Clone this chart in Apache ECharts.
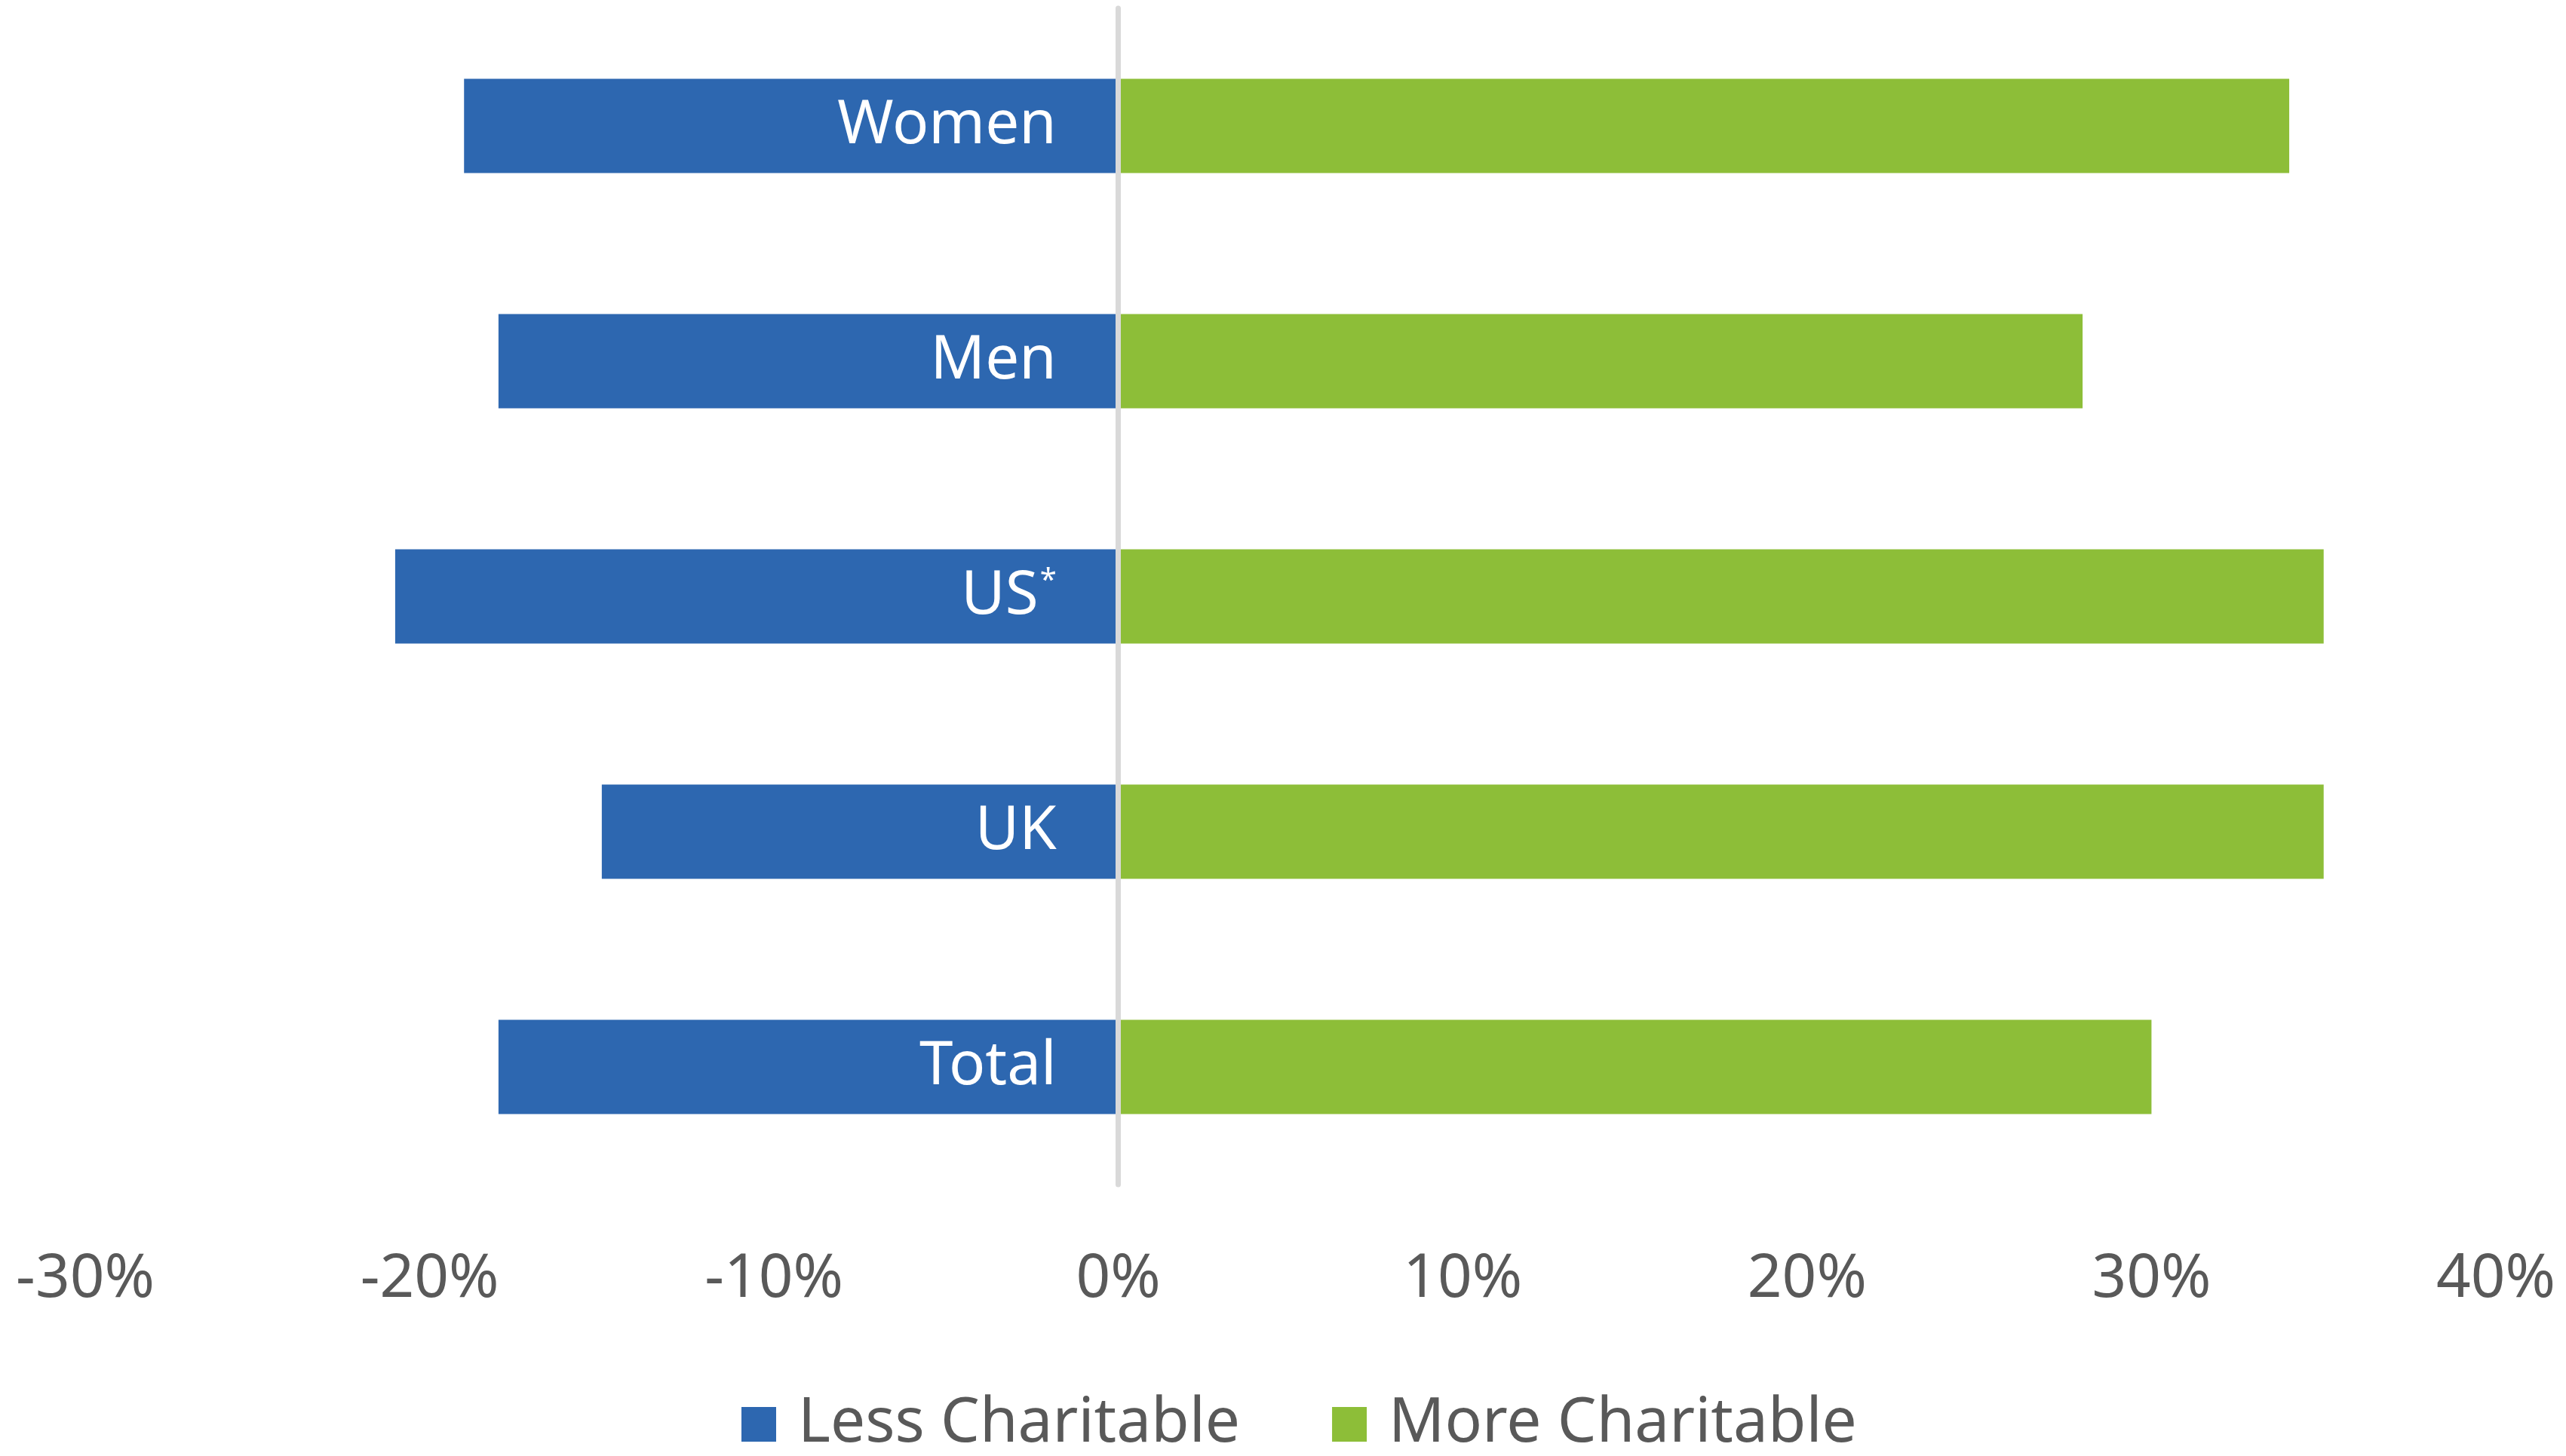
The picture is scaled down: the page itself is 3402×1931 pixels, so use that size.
<!DOCTYPE html>
<html>
<head>
<meta charset="utf-8">
<script src="https://cdn.jsdelivr.net/npm/echarts@6/dist/echarts.min.js"></script>
<style>
  html, body { margin: 0; padding: 0; background: #fff; }
  #chart { width: 3402px; height: 1931px; }
</style>
</head>
<body>
<div id="chart"></div>
<script>
  // categories top to bottom
  var categories = ['Women', 'Men', 'US*', 'UK', 'Total'];
  var lessCharitable = [-19, -18, -21, -15, -18];
  var moreCharitable = [34, 28, 35, 35, 30];
  var seriesNames = ['Less Charitable', 'More Charitable'];
  var colorList = ['#2D67B0', '#8DBE38'];

  var fontFamily = '"Noto Sans", sans-serif';
  var chart = echarts.init(document.getElementById('chart'));

  var option = {
    animation: false,
    color: colorList,
    grid: {
      left: 113,
      right: 93,
      top: 11,
      bottom: 360,
      containLabel: false,
      outerBoundsMode: 'none'
    },
    legend: {
      data: seriesNames,
      top: 1848,
      left: 983,
      padding: 0,
      itemWidth: 46,
      itemHeight: 46,
      itemGap: 122,
      icon: 'rect',
      textStyle: {
        fontFamily: fontFamily,
        fontSize: 82,
        color: '#595959',
        padding: [0, 0, 0, 24]
      }
    },
    xAxis: {
      type: 'value',
      min: -30,
      max: 40,
      interval: 10,
      splitLine: {show: false},
      axisLine: {show: false},
      axisTick: {show: false},
      axisLabel: {
        formatter: '{value}%',
        margin: 86,
        fontFamily: fontFamily,
        fontSize: 80,
        color: '#595959'
      }
    },
    yAxis: {
      type: 'category',
      inverse: true,
      data: categories,
      z: 5,
      axisTick: {show: false},
      axisLabel: {show: false},
      axisLine: {
        show: true,
        onZero: true,
        lineStyle: {color: '#D9D9D9', width: 7}
      }
    },
    series: [
      {
        name: seriesNames[0],
        type: 'bar',
        stack: 'total',
        barCategoryGap: '60%',
        label: {
          show: true,
          position: 'insideRight',
          distance: 82,
          fontFamily: fontFamily,
          fontSize: 80,
          color: '#ffffff',
          formatter: function (p) {
            var v = p.name;
            if (v.slice(-1) === '*') return v.slice(0, -1) + '{sup|*}';
            return v;
          },
          rich: {
            sup: {
              fontFamily: fontFamily,
              fontSize: 40,
              color: '#ffffff',
              verticalAlign: 'top',
              padding: [0, 0, 34, 2]
            }
          }
        },
        data: lessCharitable
      },
      {
        name: seriesNames[1],
        type: 'bar',
        stack: 'total',
        barCategoryGap: '60%',
        data: moreCharitable
      }
    ]
  };
  chart.setOption(option);
</script>
</body>
</html>
